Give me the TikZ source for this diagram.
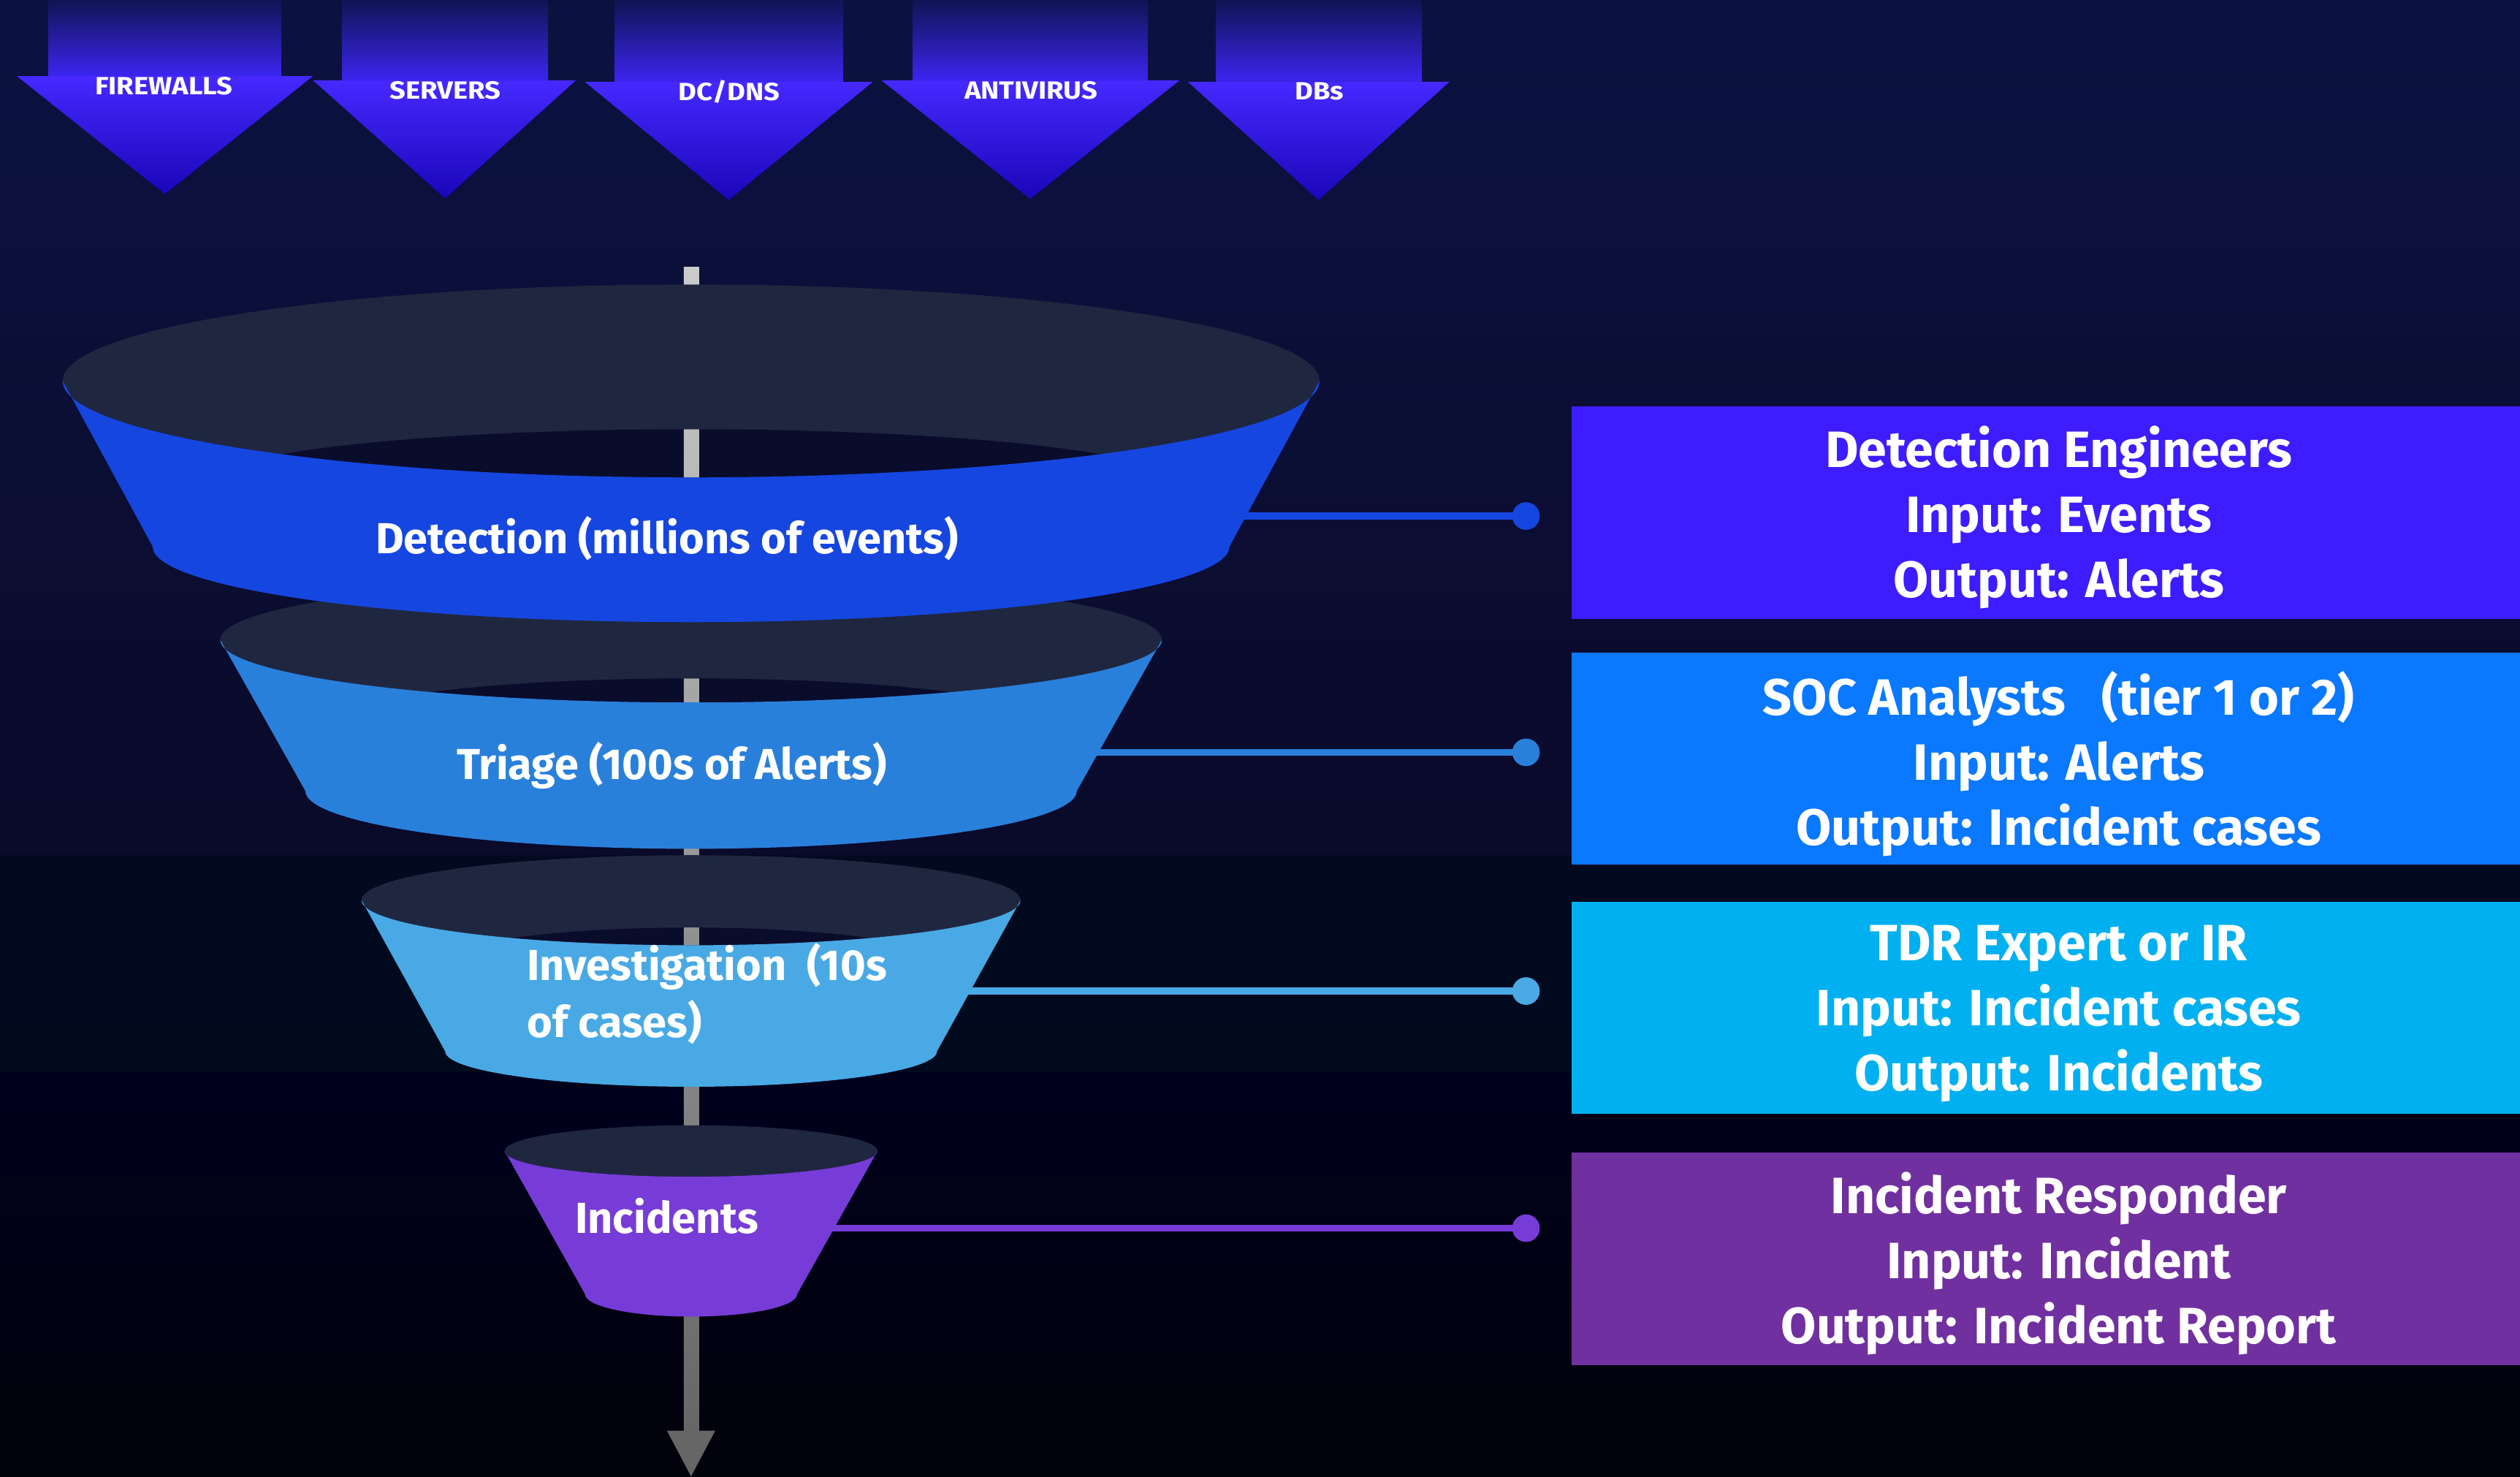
\documentclass[tikz,border=0pt]{standalone}
\usepackage{fontspec}
\setmainfont{Fira Sans}
\newfontfamily\feedfont{Fira Sans}[FakeStretch=1.12]

% background bands
\definecolor{bgA}{HTML}{0B1240}
\definecolor{bgB}{HTML}{0B1039}
\definecolor{bgC}{HTML}{0B0F37}
\definecolor{bgD}{HTML}{0A0A2A}
\definecolor{bgE}{HTML}{010A1F}
\definecolor{bgF}{HTML}{010A1D}
\definecolor{bgG}{HTML}{00001D}
\definecolor{bgH}{HTML}{02020B}
% source arrows
\definecolor{shafttop}{HTML}{0F1450}
\definecolor{shaftbot}{HTML}{3D25F2}
\definecolor{headtop}{HTML}{4529FF}
\definecolor{headbot}{HTML}{1A06B8}
% funnel
\definecolor{rimgray}{HTML}{1F2740}
\definecolor{holenavy}{HTML}{0A0C2C}
\definecolor{stemtop}{HTML}{CBCBCB}
\definecolor{stembot}{HTML}{666666}
\definecolor{bandA}{HTML}{1646E0}
\definecolor{bandB}{HTML}{2980DB}
\definecolor{bandC}{HTML}{49A9E5}
\definecolor{bandD}{HTML}{773CD7}
% role boxes
\definecolor{roleA}{HTML}{3D1CFF}
\definecolor{roleB}{HTML}{0A78FF}
\definecolor{roleC}{HTML}{00B0F0}
\definecolor{roleD}{HTML}{7030A0}

\begin{document}
\begin{tikzpicture}[x=0.025cm,y=-0.025cm,
  shaft/.style={top color=shafttop, bottom color=shaftbot},
  head/.style={top color=headtop, bottom color=headbot},
  feedlabel/.style={text=white, font=\feedfont\fontsize{11}{13}\selectfont\bfseries, anchor=base, inner sep=0pt},
  rim/.style={fill=rimgray},
  hole/.style={fill=holenavy},
  stemshade/.style={top color=stemtop, bottom color=stembot},
  stagelabel/.style={text=white, font=\fontsize{19.2}{25.2}\selectfont\bfseries, inner sep=0pt},
  rolebox/.style={rectangle, inner sep=0pt, minimum width=15.15cm, minimum height=3.3cm},
  roletext/.style={text=white, font=\fontsize{22.6}{28.8}\selectfont\bfseries, align=center, inner sep=0pt},
  link/.style={line width=3pt},
  pin/.style={circle, inner sep=0pt, minimum size=0.425cm}
]
\newcommand\flowbar{\fill[stemshade] (425.5,166) rectangle (435,893);}
% source arrow: shaft left, shaft right, head left, head right, base y, tip x, tip y
\newcommand\feedarrow[7]{%
  \fill[shaft] (#1,-1) rectangle (#2,#5+0.5);
  \fill[head] (#3,#5) -- (#4,#5) -- (#6,#7) -- cycle;}

\useasboundingbox (0,0) rectangle (1568,918.4);
\clip (0,0) rectangle (1568,918.4);

% background
\fill[top color=bgA, bottom color=bgB] (0,0) rectangle (1568,211);
\fill[top color=bgC, bottom color=bgD] (0,210) rectangle (1568,533);
\fill[top color=bgE, bottom color=bgF] (0,532) rectangle (1568,668);
\fill[top color=bgG, bottom color=bgH] (0,667) rectangle (1568,919);

% data sources feeding the funnel
\feedarrow{30}{175}{10.4}{194.8}{47.3}{102.6}{120.8}
\feedarrow{212.8}{341}{194.8}{358.3}{50}{277}{123.5}
\feedarrow{382.6}{524.6}{364}{543}{51}{453.4}{124.5}
\feedarrow{568}{714}{548.5}{734}{50}{641}{123.8}
\feedarrow{756.6}{884.7}{739}{902}{50.8}{820.4}{124.5}
\node[feedlabel] (src1) at (102,58.8) {FIREWALLS};
\node[feedlabel] (src2) at (277,61.7) {SERVERS};
\node[feedlabel] (src3) at (453.7,62.4) {DC/DNS};
\node[feedlabel] (src4) at (641.5,61.7) {ANTIVIRUS};
\node[feedlabel] (src5) at (821,62.1) {DBs};

% central flow bar with its arrow head
\flowbar
\fill[stembot] (415,890) -- (445,890) -- (430,918.4) -- cycle;

% connectors from each stage to its role
\coordinate (e1) at (760,321);
\coordinate (e2) at (672,468);
\coordinate (e3) at (590,616.5);
\coordinate (e4) at (510,764);
\node[pin, fill=bandA] (p1) at (949.5,321) {};
\node[pin, fill=bandB] (p2) at (949.5,468) {};
\node[pin, fill=bandC] (p3) at (949.5,616.5) {};
\node[pin, fill=bandD] (p4) at (949.5,764) {};
\draw[link, draw=bandA] (e1) -- (p1.center);
\draw[link, draw=bandB] (e2) -- (p2.center);
\draw[link, draw=bandC] (e3) -- (p3.center);
\draw[link, draw=bandD] (e4) -- (p4.center);
\fill[bandA] (p1) circle [radius=8.5];
\fill[bandB] (p2) circle [radius=8.5];
\fill[bandC] (p3) circle [radius=8.5];
\fill[bandD] (p4) circle [radius=8.5];

% stage 4: incidents
\fill[rim] (430,716) ellipse [x radius=116, y radius=16];
\fill[bandD] (314,716) arc[start angle=180, end angle=0, x radius=116, y radius=16]
  -- (496,805) arc[start angle=0, end angle=180, x radius=66, y radius=14] -- cycle;

% stage 3: investigation
\fill[rim] (430,560) ellipse [x radius=205, y radius=28];
\begin{scope}
  \clip (430,560) ellipse [x radius=205, y radius=28];
  \fill[hole] (430,597) ellipse [x radius=150, y radius=20];
  \clip (430,597) ellipse [x radius=150, y radius=20];
  \flowbar
\end{scope}
\fill[bandC] (225,560) arc[start angle=180, end angle=0, x radius=205, y radius=28]
  -- (583,654) arc[start angle=0, end angle=180, x radius=153, y radius=22] -- cycle;

% stage 2: triage
\fill[rim] (430,398) ellipse [x radius=293, y radius=39];
\begin{scope}
  \clip (430,398) ellipse [x radius=293, y radius=39];
  \fill[hole] (430,448) ellipse [x radius=219, y radius=26];
  \clip (430,448) ellipse [x radius=219, y radius=26];
  \flowbar
\end{scope}
\fill[bandB] (137,398) arc[start angle=180, end angle=0, x radius=293, y radius=39]
  -- (670,492) arc[start angle=0, end angle=180, x radius=240, y radius=36] -- cycle;

% stage 1: detection
\fill[rim] (430,237) ellipse [x radius=391, y radius=60];
\begin{scope}
  \clip (430,237) ellipse [x radius=391, y radius=60];
  \fill[hole] (430,300) ellipse [x radius=300, y radius=33];
  \clip (430,300) ellipse [x radius=300, y radius=33];
  \flowbar
\end{scope}
\fill[bandA] (39,237) arc[start angle=180, end angle=0, x radius=391, y radius=60]
  -- (765,340) arc[start angle=0, end angle=180, x radius=335, y radius=47] -- cycle;

% stage labels
\node[stagelabel, anchor=base] (s1) at (415,344.5) {Detection (millions of events)};
\node[stagelabel, anchor=base] (s2) at (418,485) {Triage (100s of Alerts)};
\node[stagelabel, anchor=west, align=left] (s3) at (327.7,618) {Investigation\ \ (10s\\of cases)};
\node[stagelabel, anchor=base] (s4) at (415,767) {Incidents};

% role boxes
\node[rolebox, fill=roleA] (r1) at (1281,319) {};
\node[rolebox, fill=roleB] (r2) at (1281,472) {};
\node[rolebox, fill=roleC] (r3) at (1281,627) {};
\node[rolebox, fill=roleD] (r4) at (1281,783) {};
\node[roletext] (t1) at (1281,322) {Detection Engineers\\Input: Events\\Output: Alerts};
\node[roletext] (t2) at (1281,475) {SOC Analysts\ \ \ (tier 1 or 2)\\Input: Alerts\\Output: Incident cases};
\node[roletext] (t3) at (1281,630.5) {TDR Expert or IR\\Input: Incident cases\\Output: Incidents};
\node[roletext] (t4) at (1281,786) {Incident Responder\\Input: Incident\\Output: Incident Report};
\end{tikzpicture}
\end{document}
